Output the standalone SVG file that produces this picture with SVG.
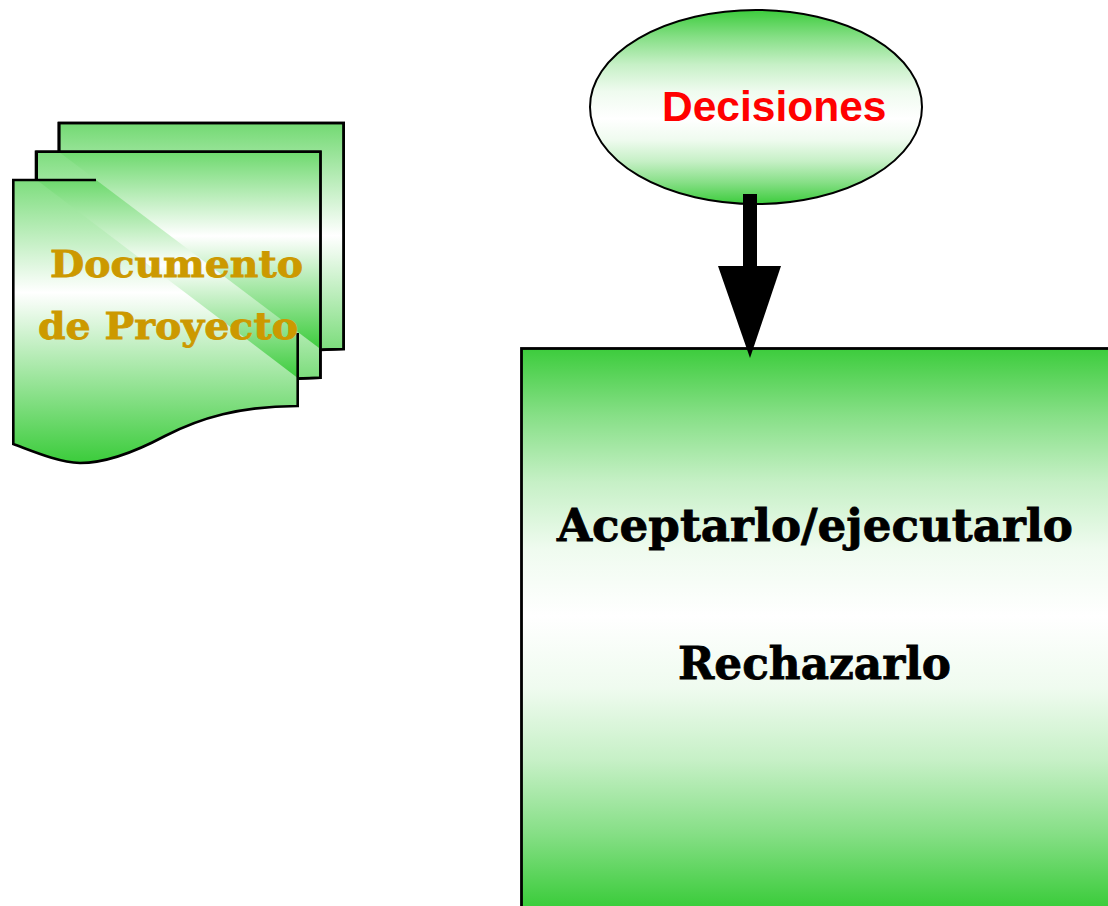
<svg xmlns="http://www.w3.org/2000/svg" width="1108" height="906" viewBox="0 0 1108 906">
<style>
.ol{fill:none;stroke:#000;stroke-width:2.6;stroke-linejoin:miter}
.doctxt{font-family:"DejaVu Serif","Liberation Serif",serif;font-weight:bold;fill:#cc9900;stroke:#cc9900;stroke-width:0.8;font-size:37px}
.boxtxt{font-family:"DejaVu Serif","Liberation Serif",serif;font-weight:bold;fill:#000;stroke:#000;stroke-width:0.8;font-size:44px}
.dectxt{font-family:"Liberation Sans",Arial,sans-serif;font-weight:bold;fill:#ff0000;font-size:42.5px}
.s0{stop-color:#3ccc3c}.s1{stop-color:#86df86}.s2{stop-color:#c6f0c6}.s3{stop-color:#effbef}.s4{stop-color:#ffffff}
</style>
<defs>
<linearGradient id="gGlobal" gradientUnits="userSpaceOnUse" x1="0" y1="123" x2="0" y2="462">
<stop offset="0" class="s0"/><stop offset="0.5" class="s4"/><stop offset="1" class="s0"/>
</linearGradient>
<linearGradient id="gBackSheet" gradientUnits="userSpaceOnUse" x1="0" y1="123" x2="0" y2="462">
<stop offset="0" class="s0"/><stop offset="0.085" stop-color="#4fd04f"/><stop offset="0.5" class="s4"/><stop offset="1" class="s0"/>
</linearGradient>
<linearGradient id="gTback" href="#gGlobal" gradientUnits="userSpaceOnUse" x1="0" y1="123" x2="0" y2="349"/>
<linearGradient id="gTmid" href="#gGlobal" gradientUnits="userSpaceOnUse" x1="0" y1="152" x2="0" y2="378"/>
<linearGradient id="gEll" x1="0" y1="0" x2="0" y2="1">
<stop offset="0" class="s0"/><stop offset="0.14" class="s1"/><stop offset="0.28" class="s2"/><stop offset="0.42" class="s3"/><stop offset="0.56" class="s4"/><stop offset="0.67" class="s3"/><stop offset="0.78" class="s2"/><stop offset="0.89" class="s1"/><stop offset="1" class="s0"/>
</linearGradient>
<linearGradient id="gBox" gradientUnits="userSpaceOnUse" x1="0" y1="348" x2="0" y2="906">
<stop offset="0" class="s0"/><stop offset="0.12" class="s1"/><stop offset="0.24" class="s2"/><stop offset="0.36" class="s3"/><stop offset="0.48" class="s4"/><stop offset="0.61" class="s3"/><stop offset="0.74" class="s2"/><stop offset="0.87" class="s1"/><stop offset="1" class="s0"/>
</linearGradient>
<path id="sheet" d="M13.3,180 H297.7 V406 C240,406 200,418 165,436 C135,452 105,463 80,463 C58,462 35,452 13.3,444 Z"/>
</defs>

<g id="documento">
<use href="#sheet" transform="translate(46,-57)" fill="url(#gBackSheet)" stroke="#000" stroke-width="2.6"/>
<use href="#sheet" transform="translate(22.7,-28.3)" fill="url(#gGlobal)" stroke="#000" stroke-width="2.6"/>
<use href="#sheet" fill="url(#gGlobal)"/>
<polygon points="36.7,180 297.7,180 297.7,378" fill="url(#gTmid)"/>
<polygon points="58.7,151.7 320.4,151.7 320.4,349" fill="url(#gTback)"/>
<path class="ol" d="M58.7,151.7 V123 H343.7 V349 L320.4,350"/>
<path class="ol" d="M36.7,180 V151.7 H320.4 V377.7 L297.7,378.7"/>
<path class="ol" d="M96,180 H13.3 V444 C35,452 58,462 80,463 C105,463 135,452 165,436 C200,418 240,406 297.7,406 V333"/>
<text class="doctxt" x="50" y="277" textLength="253" lengthAdjust="spacingAndGlyphs">Documento</text>
<text class="doctxt" x="38" y="339" textLength="260" lengthAdjust="spacingAndGlyphs">de Proyecto</text>
</g>

<g id="decisiones">
<ellipse cx="756" cy="107" rx="166" ry="97" fill="url(#gEll)" stroke="#000" stroke-width="2"/>
<text class="dectxt" x="662" y="121">Decisiones</text>
</g>

<g id="opciones">
<rect x="521.5" y="348.5" width="600" height="600" fill="url(#gBox)" stroke="#000" stroke-width="2.8"/>
<text class="boxtxt" x="557" y="541" textLength="516" lengthAdjust="spacingAndGlyphs">Aceptarlo/ejecutarlo</text>
<text class="boxtxt" x="678" y="679" textLength="273" lengthAdjust="spacingAndGlyphs">Rechazarlo</text>
</g>

<g id="connectors">
<rect x="743" y="194" width="14" height="73" fill="#000"/>
<polygon points="718,266 781,266 750,358" fill="#000"/>
</g>
</svg>
